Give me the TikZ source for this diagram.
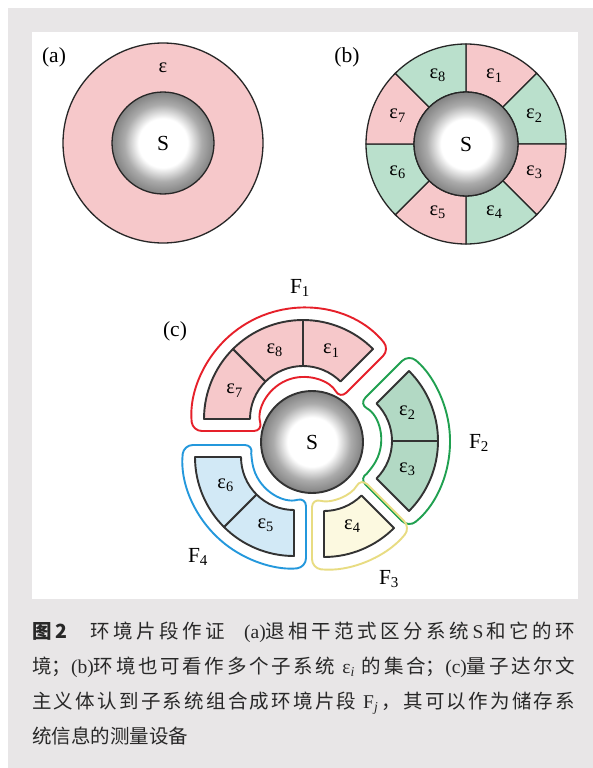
\documentclass[tikz,border=0pt]{standalone}
\usepackage{fontspec}
\setmainfont{Liberation Serif}
\newfontfamily\cjk{Noto Sans CJK SC}
\usetikzlibrary{calc}
\XeTeXlinebreaklocale "zh"
\XeTeXlinebreakskip=0pt plus 3pt
\definecolor{bggray}{RGB}{232,230,231}
\definecolor{pinkc}{RGB}{246,200,202}
\definecolor{greenc}{RGB}{186,224,204}
\definecolor{greend}{RGB}{178,217,196}
\definecolor{yellowc}{RGB}{252,249,224}
\definecolor{bluec}{RGB}{210,233,246}
\definecolor{redl}{RGB}{230,32,42}
\definecolor{greenl}{RGB}{32,160,80}
\definecolor{yellowl}{RGB}{232,220,130}
\definecolor{bluel}{RGB}{36,152,220}
\definecolor{captxt}{RGB}{40,40,40}
\pgfdeclareradialshading{sball}{\pgfpoint{0bp}{0bp}}{color(0bp)=(white); color(12bp)=(white); color(19bp)=(black!33); color(28bp)=(black!57); color(39bp)=(black!68); color(50bp)=(black!75)}
\begin{document}
\begin{tikzpicture}[x=1pt,y=1pt,
  lab/.style={font=\fontsize{21.5}{24}\selectfont, inner sep=0pt},
  eps/.style={font=\fontsize{20.5}{22}\selectfont, inner sep=0pt},
  ring/.style={draw=black!85, line width=1.3pt},
  seg/.style={draw=black!80, line width=1.9pt, line join=round},
  oline/.style={line width=1.9pt, rounded corners=9pt},
  sball/.style={shading=sball}]
\useasboundingbox (0,0) rectangle (593,-768);
\fill[white] (0,0) rectangle (593,-768);
\fill[bggray] (8,-8) rectangle (593,-768);
\fill[white] (32,-32) rectangle (578,-599);

% (a)
\begin{scope}[shift={(163,-143)}]
  \filldraw[fill=pinkc, ring] (0,0) circle[radius=100];
  \shade[sball] (0,0) circle[radius=51];
  \draw[ring] (0,0) circle[radius=51];
  \node[lab] (Sa) at (0,0) {S};
  \node[eps] (ea) at (0,75) {ε};
\end{scope}
\node[lab] (la) at (54,-57) {(a)};

% (b)
\begin{scope}[shift={(466,-144)}]
  \foreach \k/\col in {1/pinkc,2/greenc,3/pinkc,4/greenc,5/pinkc,6/greenc,7/pinkc,8/greenc}{
    \pgfmathsetmacro\aa{90-45*(\k-1)}
    \pgfmathsetmacro\bb{90-45*\k}
    \filldraw[fill=\col, ring] (\aa:100) arc[start angle=\aa, end angle=\bb, radius=100] -- (\bb:52) arc[start angle=\bb, end angle=\aa, radius=52] -- cycle;
    \node[eps] (eb\k) at ({(\aa+\bb)/2}:74) {ε\textsubscript{\k}};
  }
  \shade[sball] (0,0) circle[radius=52];
  \draw[ring] (0,0) circle[radius=52];
  \node[lab] (Sb) at (0,0) {S};
\end{scope}
\node[lab] (lb) at (347,-57) {(b)};

% (c)
\begin{scope}[shift={(303,-419)}]
  \draw[redl, oline] (38.8:111) arc[start angle=38.8, end angle=186.2, radius=111] -- (196.6:42) arc[start angle=196.6, end angle=28.4, radius=42] -- cycle;
  \foreach \aa/\bb/\k in {135/180/7, 90/135/8, 45/90/1}{
    \filldraw[fill=pinkc, seg] (\aa:99) arc[start angle=\aa, end angle=\bb, radius=99] -- (\bb:53) arc[start angle=\bb, end angle=\aa, radius=53] -- cycle;
    \node[eps] (ec\k) at ({(\aa+\bb)/2}:74) {ε\textsubscript{\k}};
  }
\end{scope}
\begin{scope}[shift={(339,-441)}]
  \draw[greenl, oline] (-51.2:111) arc[start angle=-51.2, end angle=51.2, radius=111] -- (61.6:42) arc[start angle=61.6, end angle=-61.6, radius=42] -- cycle;
  \foreach \aa/\bb/\k in {0/45/2, -45/0/3}{
    \filldraw[fill=greend, seg] (\aa:99) arc[start angle=\aa, end angle=\bb, radius=99] -- (\bb:53) arc[start angle=\bb, end angle=\aa, radius=53] -- cycle;
    \node[eps] (ec\k) at ({(\aa+\bb)/2}:74) {ε\textsubscript{\k}};
  }
\end{scope}
\begin{scope}[shift={(324,-458)}]
  \draw[yellowl, oline] (-96.2:111) arc[start angle=-96.2, end angle=-38.8, radius=111] -- (-28.4:42) arc[start angle=-28.4, end angle=-106.6, radius=42] -- cycle;
  \filldraw[fill=yellowc, seg] (-90:99) arc[start angle=-90, end angle=-45, radius=99] -- (-45:53) arc[start angle=-45, end angle=-90, radius=53] -- cycle;
  \node[eps] (ec4) at (-67.5:74) {ε\textsubscript{4}};
\end{scope}
\begin{scope}[shift={(294,-457)}]
  \draw[bluel, oline] (-186.2:111) arc[start angle=-186.2, end angle=-83.8, radius=111] -- (-73.4:42) arc[start angle=-73.4, end angle=-196.6, radius=42] -- cycle;
  \foreach \aa/\bb/\k in {-135/-90/5, -180/-135/6}{
    \filldraw[fill=bluec, seg] (\aa:99) arc[start angle=\aa, end angle=\bb, radius=99] -- (\bb:53) arc[start angle=\bb, end angle=\aa, radius=53] -- cycle;
    \node[eps] (ec\k) at ({(\aa+\bb)/2}:74) {ε\textsubscript{\k}};
  }
\end{scope}
\begin{scope}[shift={(312,-442)}]
  \shade[sball] (0,0) circle[radius=51];
  \draw[seg] (0,0) circle[radius=51];
  \node[lab] (Sc) at (0,0) {S};
\end{scope}
\node[lab] (lc) at (175,-331) {(c)};
\node[lab] (F1) at (300,-288) {F\textsubscript{1}};
\node[lab] (F2) at (479,-443) {F\textsubscript{2}};
\node[lab] (F3) at (389,-579) {F\textsubscript{3}};
\node[lab] (F4) at (198,-557) {F\textsubscript{4}};

% caption
\node[anchor=north west, inner sep=0pt, text width=543pt, align=justify, text=captxt, font=\fontsize{19.5}{35}\selectfont] (cap) at (32,-622) {%
{\cjk\bfseries 图2}{\cjk 　环境片段作证　}(a){\cjk 退相干范式区分系统}\,S\,{\cjk 和它的环}\linebreak
{\cjk 境；}(b){\cjk 环境也可看作多个子系统}~ε\textsubscript{\textit{i}}~{\cjk 的集合；}(c){\cjk 量子达尔文}\linebreak
{\cjk 主义体认到子系统组合成环境片段}~F\textsubscript{\textit{j}}\,{\cjk ，其可以作为储存系}\linebreak
{\cjk 统信息的测量设备}};
\end{tikzpicture}
\end{document}
